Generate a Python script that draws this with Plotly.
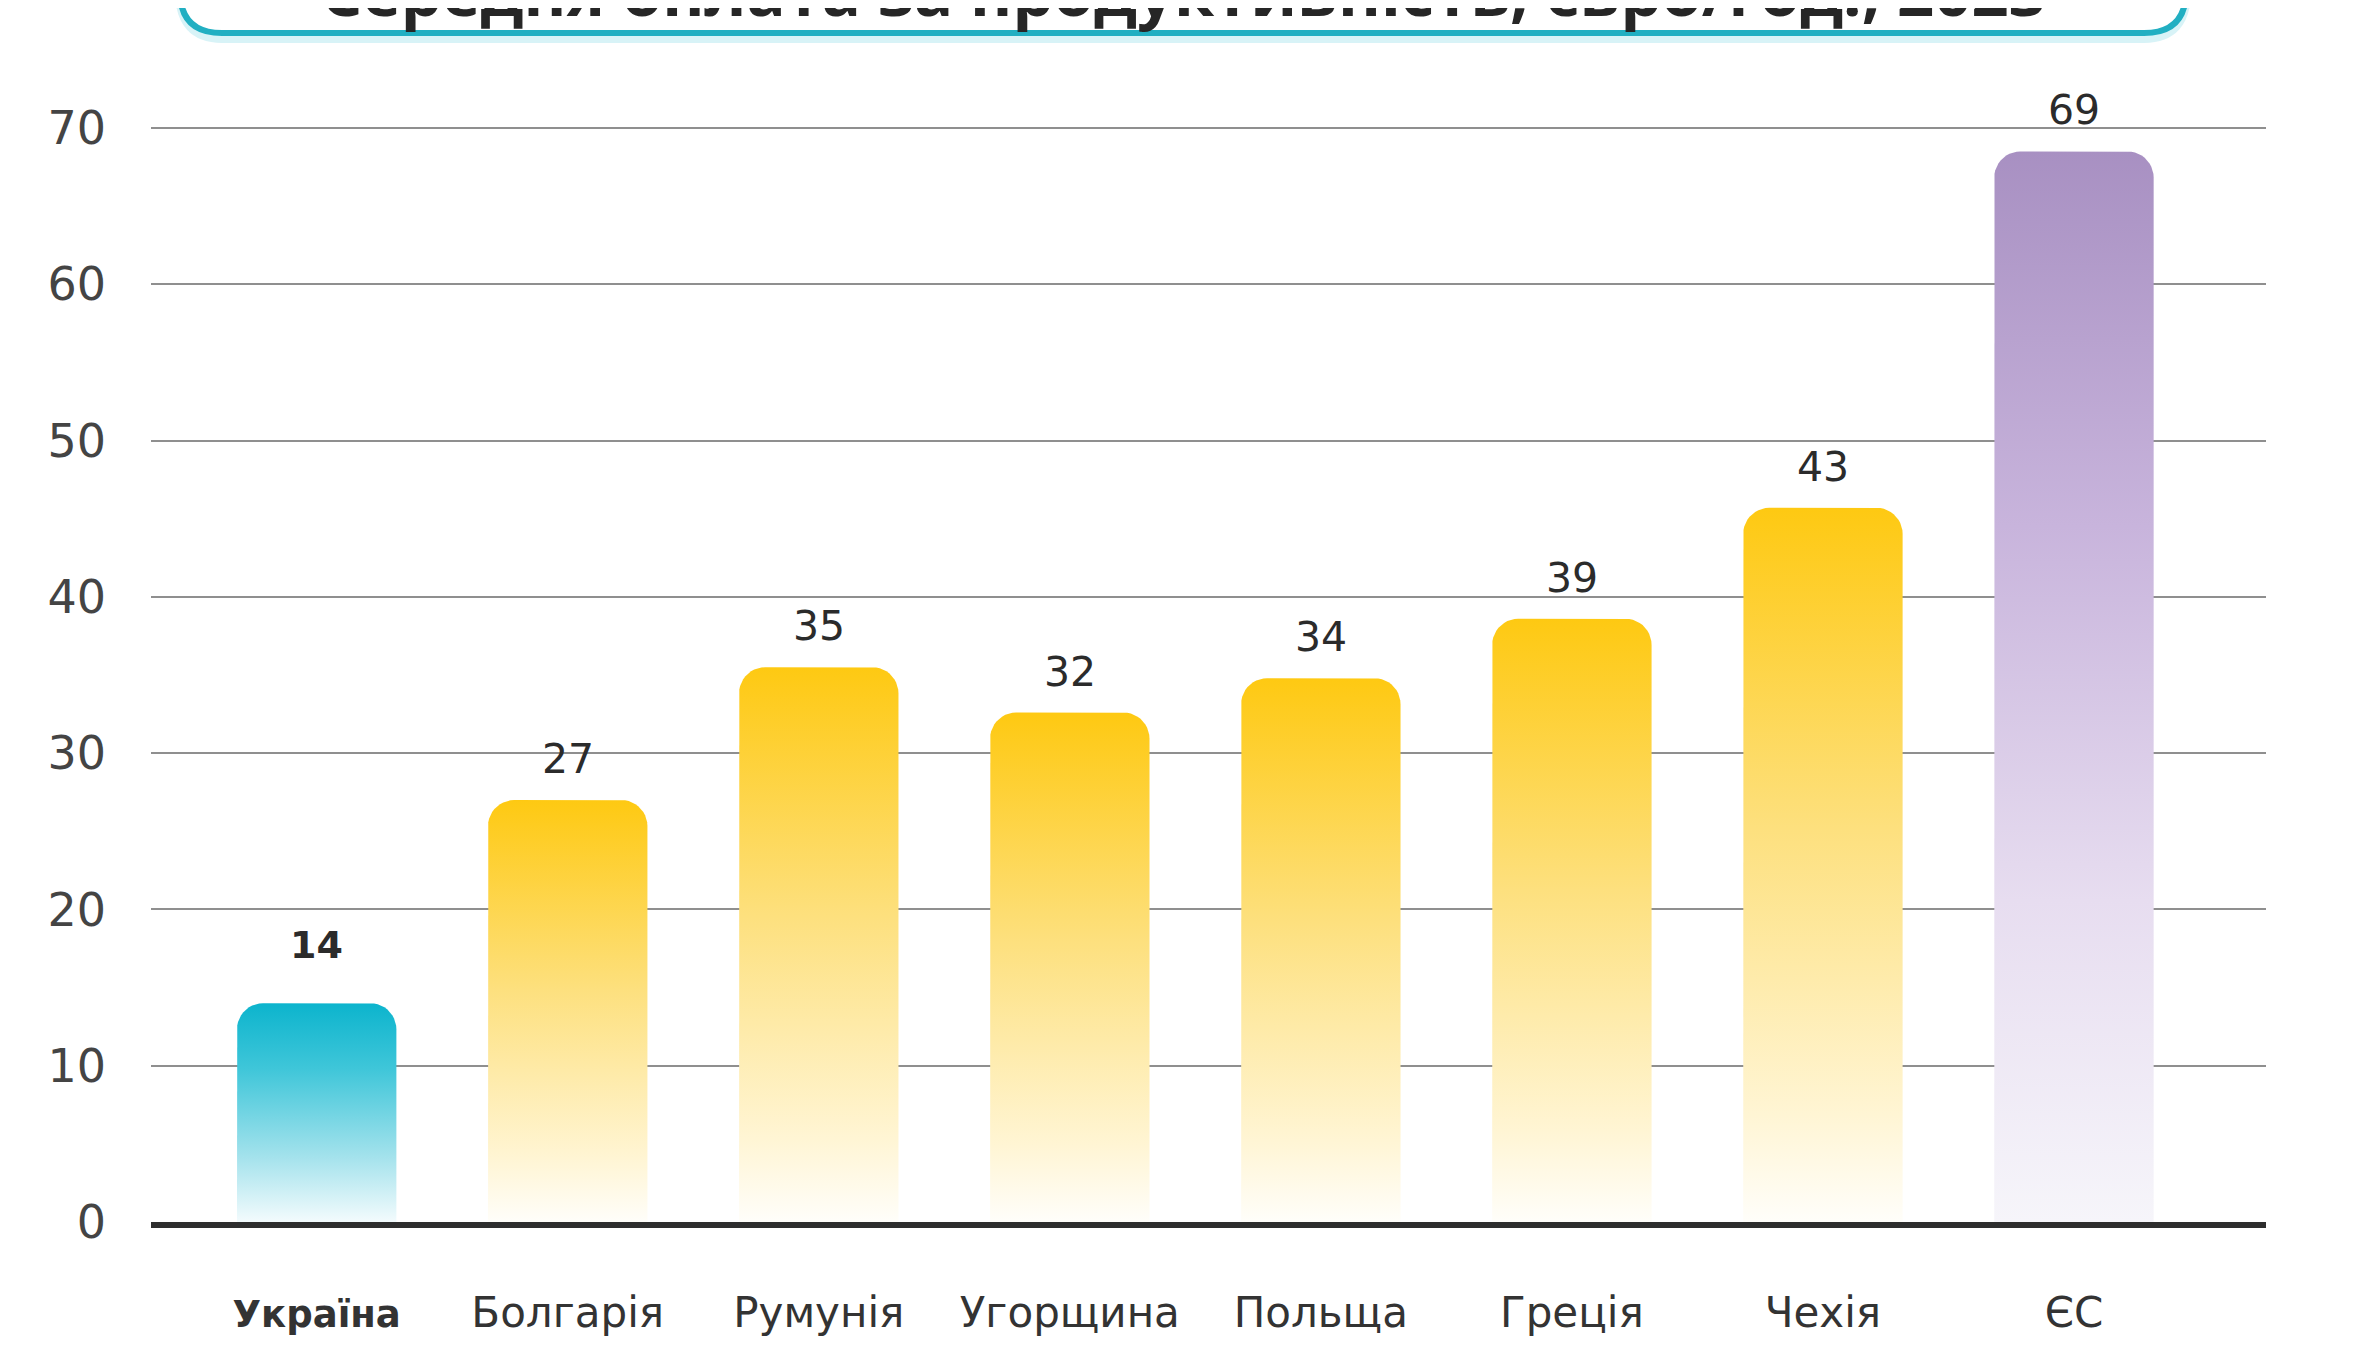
import numpy as np
import plotly.graph_objects as go

# --- data ---
countries = ["Україна", "Болгарія", "Румунія", "Угорщина", "Польща", "Греція", "Чехія", "ЄС"]
bar_heights = [14, 27, 35.5, 32.6, 34.8, 38.6, 45.7, 68.5]
value_labels = ["14", "27", "35", "32", "34", "39", "43", "69"]
y_ticks = [0, 10, 20, 30, 40, 50, 60, 70]
title_text = "Середня оплата за продуктивність, євро/год., 2023"

# gradients: bottom -> top
CYAN = [[0, "#f3fbfd"], [0.3, "#a3e2ec"], [0.7, "#3fc6d9"], [1, "#0cb4cd"]]
YELLOW = [[0, "#fffefa"], [0.15, "#fff5d4"], [0.55, "#fde07e"], [1, "#fec912"]]
PURPLE = [[0, "#f6f5fa"], [0.3, "#e7ddf0"], [0.65, "#c8b4dc"], [1, "#a890c2"]]
bar_fills = [CYAN] + [YELLOW] * 6 + [PURPLE]

FONT = "DejaVu Sans"
W, H = 2356, 1369
OFF = 8  # page body margin
L, R, T, B = 151 - OFF, 90 + OFF, 128 - OFF - 2, 147 + OFF
XR = [-0.66, 7.765]
YR = [0, 70.13]
BAR_W = 0.635
CORNER_PX = 26

plot_w = W - L - R
plot_h = H - T - B
rx = CORNER_PX / (plot_w / (XR[1] - XR[0]))
ry = CORNER_PX / (plot_h / (YR[1] - YR[0]))


# pixel (in the reference picture) -> paper coords
def px_x(p):
    return (p - OFF - L) / plot_w


def px_y(p):
    return (H - B - (p - OFF)) / plot_h


def rounded_bar(i, h):
    x0, x1 = i - BAR_W / 2, i + BAR_W / 2
    t = np.linspace(np.pi, np.pi / 2, 12)
    lx = (x0 + rx) + rx * np.cos(t)
    ly = (h - ry) + ry * np.sin(t)
    t2 = np.linspace(np.pi / 2, 0, 12)
    rxs = (x1 - rx) + rx * np.cos(t2)
    rys = (h - ry) + ry * np.sin(t2)
    xs = [x0, *lx, *rxs, x1, x0]
    ys = [0, *ly, *rys, 0, 0]
    return xs, ys


fig = go.Figure()

for i, (h, cs) in enumerate(zip(bar_heights, bar_fills)):
    xs, ys = rounded_bar(i, h)
    fig.add_trace(go.Scatter(
        x=xs, y=ys, mode="lines", fill="toself",
        line=dict(width=0, color="rgba(0,0,0,0)"),
        fillgradient=dict(type="vertical", colorscale=cs),
        hoverinfo="skip", showlegend=False,
    ))

# value labels above bars
for i, (h, lab) in enumerate(zip(bar_heights, value_labels)):
    first = i == 0
    fig.add_annotation(
        x=i, y=h, text=f"<b>{lab}</b>" if first else lab,
        showarrow=False, yanchor="middle",
        yshift=58 if first else 41,
        font=dict(family=FONT, size=38 if first else 41, color="#2b2b2b"),
    )

# title box (cut off at the top of the page)
bx0, bx1, by, rad = 180, 2186, 33, 42
box_path = (
    f"M {px_x(bx0)},{px_y(-120)} L {px_x(bx0)},{px_y(by - rad)} "
    f"Q {px_x(bx0)},{px_y(by)} {px_x(bx0 + rad)},{px_y(by)} "
    f"L {px_x(bx1 - rad)},{px_y(by)} "
    f"Q {px_x(bx1)},{px_y(by)} {px_x(bx1)},{px_y(by - rad)} "
    f"L {px_x(bx1)},{px_y(-120)} Z"
)
fig.add_shape(type="path", xref="paper", yref="paper", path=box_path.replace(
    f"{px_y(by)}", f"{px_y(by + 5)}"),
    line=dict(color="rgba(40,190,210,0.18)", width=10), fillcolor="rgba(0,0,0,0)")
fig.add_shape(type="path", xref="paper", yref="paper", path=box_path,
              line=dict(color="#21afc2", width=6), fillcolor="white")
fig.add_annotation(
    xref="paper", yref="paper", x=px_x(1183), y=px_y(-9),
    text=f"<b>{title_text}</b>", showarrow=False,
    xanchor="center", yanchor="middle",
    font=dict(family="Open Sans", size=65, color="#262626"),
)

ticktext = [
    f"<b><span style='font-size:37px'>{c}</span></b>" if k == 0 else c
    for k, c in enumerate(countries)
]

fig.update_layout(
    width=W, height=H,
    margin=dict(l=L, r=R, t=T, b=B, pad=0),
    paper_bgcolor="white", plot_bgcolor="white",
    showlegend=False,
    xaxis=dict(
        range=XR, tickmode="array", tickvals=list(range(len(countries))),
        ticktext=ticktext, showgrid=False, zeroline=False,
        showline=True, linecolor="#2e2e2e", linewidth=6, layer="above traces",
        ticks="", ticklabelstandoff=49,
        tickfont=dict(family=FONT, size=42, color="#333333"),
        fixedrange=True,
    ),
    yaxis=dict(
        range=YR, tickmode="array", tickvals=y_ticks,
        showgrid=True, gridcolor="#8f8f8f", gridwidth=2,
        zeroline=False, showline=False, ticks="",
        ticklabelstandoff=44,
        tickfont=dict(family=FONT, size=46, color="#444444"),
        fixedrange=True,
    ),
)

fig.write_html("out.html")
